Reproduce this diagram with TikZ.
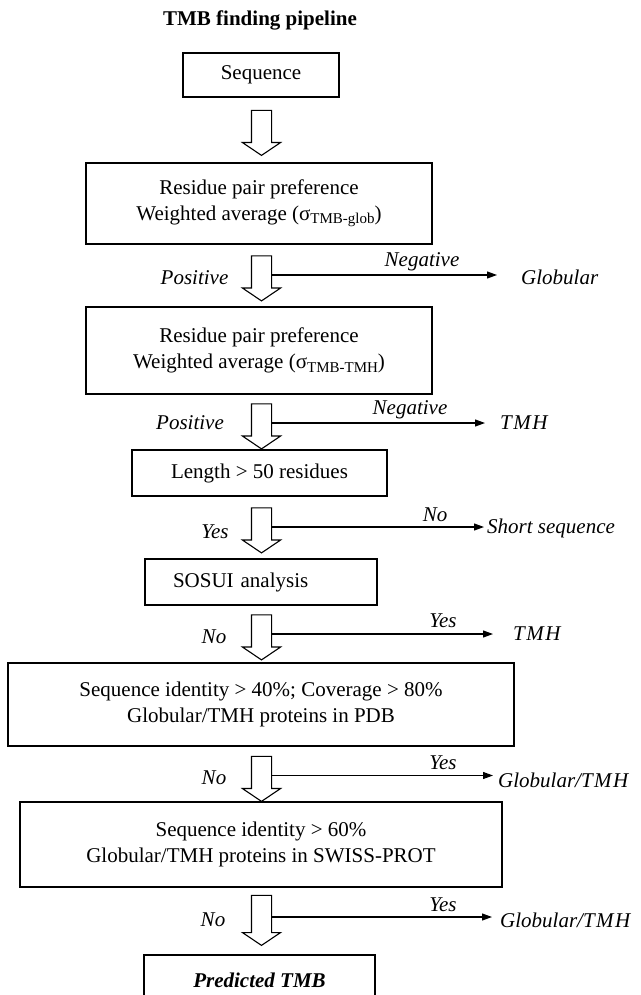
\documentclass[tikz,border=0pt]{standalone}
\usepackage{fontspec}
\setmainfont{Liberation Serif}
\usetikzlibrary{shapes.arrows,arrows.meta}
\newcommand{\sbs}[1]{\raisebox{-0.35ex}{\fontsize{15}{15}\selectfont #1}}
\newcommand{\tmhlbl}{T\kern1.5pt M\kern1.5pt H}
\begin{document}
\begin{tikzpicture}[x=1pt,y=-1pt,
  every node/.style={font=\fontsize{21}{26}\selectfont, inner sep=0pt},
  box/.style={draw, line width=1.1pt, align=center},
  lbl/.style={font=\fontsize{21}{26}\selectfont\itshape},
  down/.style={single arrow, draw, line width=1.1pt, rotate=-90,
    minimum height=45pt, inner xsep=0pt, inner ysep=9.5pt,
    single arrow head extend=9pt, single arrow tip angle=112,
    single arrow head indent=0pt},
  side/.style={line width=1.1pt, -{Triangle[length=10pt,width=7pt]}}]
\useasboundingbox (0,0) rectangle (640,995);
\clip (0,0) rectangle (640,995);

\node[font=\fontsize{21}{26}\selectfont\bfseries] (title) at (260,20) {TMB finding pipeline};

\node[box, minimum width=156pt, minimum height=44pt] (seq) at (261,75) {Sequence};
\node[down] (h1) at (261.5,129.5) {};

\node[box, minimum width=346pt, minimum height=81pt] (rpp1) at (259,203.5)
  {Residue pair preference\\Weighted average (σ\sbs{TMB-glob})};
\node[down] (h2) at (261.5,275) {};
\node[lbl] (pos1) at (194.5,278) {Positive};
\node[lbl] (neg1) at (422,262) {Negative};
\coordinate (e1) at (497,276);
\node[lbl, anchor=west] (glob) at (521,277) {Globular};
\draw[side] ([xshift=9.5pt]h2.center) -- (h2.center -| e1);

\node[box, minimum width=346pt, minimum height=87pt] (rpp2) at (259,350.5)
  {Residue pair preference\\Weighted average (σ\sbs{TMB-TMH})};
\node[down] (h3) at (261.5,423) {};
\node[lbl] (pos2) at (190,423) {Positive};
\node[lbl] (neg2) at (410,410) {Negative};
\coordinate (e2) at (485,423);
\node[lbl, anchor=west] (tmh1) at (500,423) {\tmhlbl};
\draw[side] ([xshift=9.5pt]h3.center) -- (h3.center -| e2);

\node[box, minimum width=255pt, minimum height=46pt] (len) at (259.5,473) {Length > 50 residues};
\node[down] (h4) at (261.5,527) {};
\node[lbl] (yes1) at (215,532) {Yes};
\node[lbl] (no1) at (435,515) {No};
\coordinate (e3) at (484,528);
\node[lbl, anchor=west] (short) at (487,528) {Short sequence};
\draw[side] ([xshift=9.5pt]h4.center) -- (h4.center -| e3);

\node[box, minimum height=46pt, text width=176pt, align=left, inner xsep=28pt] (sosui) at (261,582) {SOSUI analysis};
\node[down] (h5) at (261.5,634) {};
\node[lbl] (no2) at (214,637) {No};
\node[lbl] (yes2) at (443,621) {Yes};
\coordinate (e4) at (493,634);
\node[lbl, anchor=west] (tmh2) at (513,634) {\tmhlbl};
\draw[side] ([xshift=9.5pt]h5.center) -- (h5.center -| e4);

\node[box, minimum width=506pt, minimum height=83pt] (pdb) at (261,704.5)
  {Sequence identity > 40\%; Coverage > 80\%\\Globular/TMH proteins in PDB};
\node[down] (h6) at (261.5,775.5) {};
\node[lbl] (no3) at (214,778) {No};
\node[lbl] (yes3) at (443,763) {Yes};
\coordinate (e5) at (493,777);
\node[lbl, anchor=west] (gt1) at (498,780) {Globular/\tmhlbl};
\draw[side] ([xshift=9.5pt]h6.center) -- (h6.center -| e5);

\node[box, minimum width=482pt, minimum height=85pt] (swiss) at (261,844.5)
  {Sequence identity > 60\%\\Globular/TMH proteins in SWISS-PROT};
\node[down, minimum height=50pt] (h7) at (261.5,917) {};
\node[lbl] (no4) at (213,920) {No};
\node[lbl] (yes4) at (443,905) {Yes};
\coordinate (e6) at (492,916);
\node[lbl, anchor=west] (gt2) at (500,920) {Globular/\tmhlbl};
\draw[side] ([xshift=9.5pt]h7.center) -- (h7.center -| e6);

\node[box, minimum width=231pt, minimum height=50pt, font=\fontsize{21}{26}\selectfont\bfseries\itshape] (pred) at (259.5,980) {Predicted TMB};
\end{tikzpicture}
\end{document}
